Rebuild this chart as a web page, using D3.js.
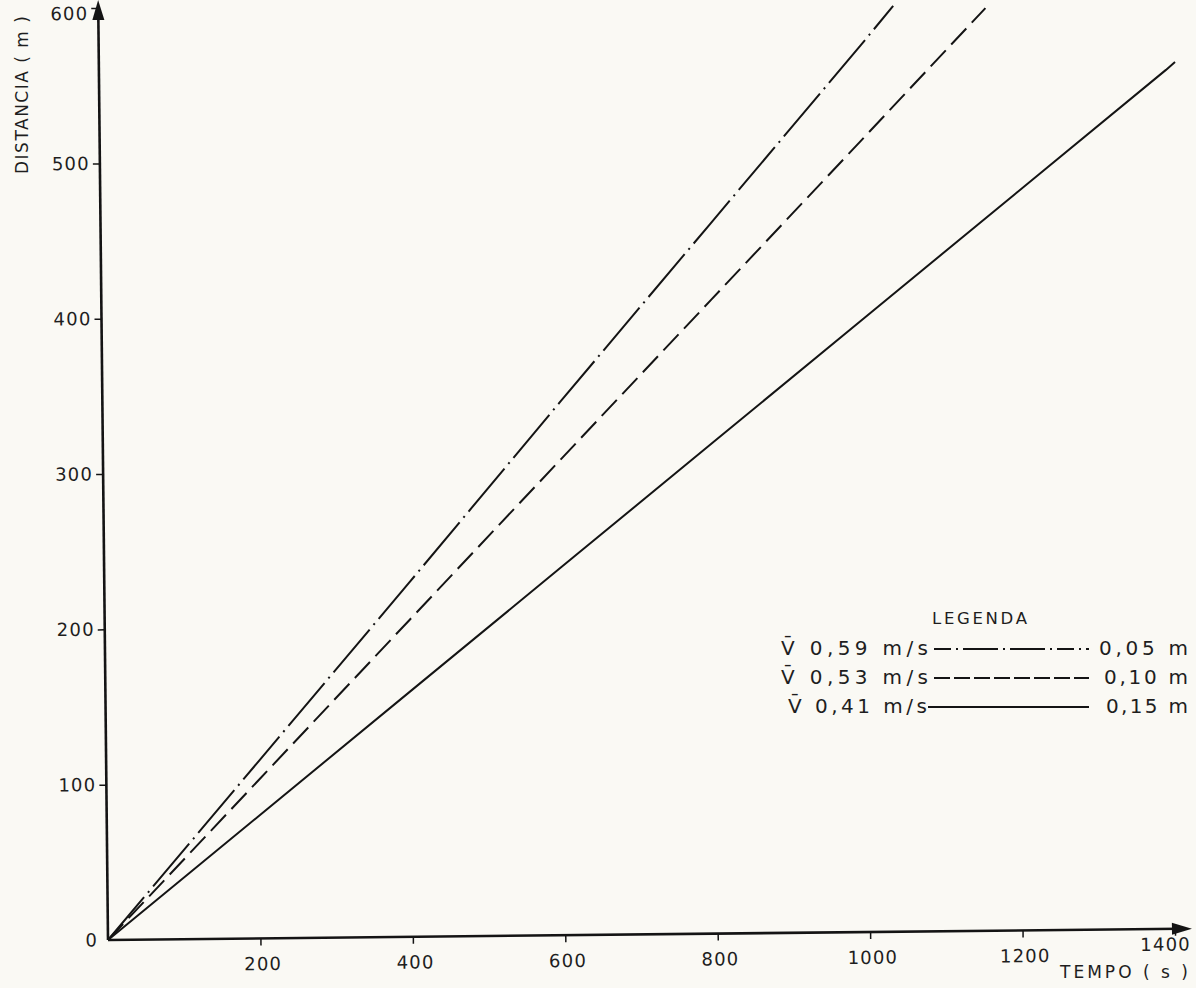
<!DOCTYPE html>
<html>
<head>
<meta charset="utf-8">
<script src="https://cdn.jsdelivr.net/npm/d3@7"></script>
<style>
  html, body { margin: 0; padding: 0; background: #faf9f4; }
  svg { display: block; }
  text { font-family: "DejaVu Sans", sans-serif; fill: #1e1e1e; }
</style>
</head>
<body>
<svg id="chart" width="1196" height="988"></svg>
<script>
// ---- data ----
const xTicks = [200, 400, 600, 800, 1000, 1200, 1400];
const yTicks = [0, 100, 200, 300, 400, 500, 600];
const xTitle = "TEMPO ( s )";
const yTitle = "DISTANCIA ( m )";
const legendTitle = "LEGENDA";

// series: time (s) and distance (m)
const t059 = [0, 200, 400, 600, 800, 1000, 1043];
const d059 = [0, 114, 228, 343, 457, 571, 596];
const t053 = [0, 200, 400, 600, 800, 1000, 1164];
const d053 = [0, 102, 204, 306, 408, 510, 594];
const t041 = [0, 200, 400, 600, 800, 1000, 1200, 1400, 1412];
const d041 = [0, 79, 158, 237, 316, 395, 474, 553, 558];

const seriesNames = ["V\u0304 0,59 m/s", "V\u0304 0,53 m/s", "V\u0304 0,41 m/s"];
const seriesDepth = ["0,05 m", "0,10 m", "0,15 m"];

// ---- drawing ----
const svg = d3.select("#chart");
svg.append("rect").attr("width", 1196).attr("height", 988).attr("fill", "#faf9f4");

const ox = 108, oy = 940;
const g = svg.append("g").attr("transform", `translate(${ox},${oy}) rotate(-0.6)`);

const x = d3.scaleLinear().domain([0, 1400]).range([0, 1067]);
const y = d3.scaleLinear().domain([0, 600]).range([0, -932]);

const ink = "#141414";

// x axis ticks + labels
const xAxis = d3.axisBottom(x).tickValues(xTicks).tickSize(7).tickPadding(12).tickFormat(d3.format("d"));
const gx = g.append("g").call(xAxis);
gx.select(".domain").remove();
gx.selectAll(".tick line").attr("stroke", ink).attr("stroke-width", 1.5);
gx.selectAll(".tick text").attr("font-size", 18).attr("fill", "#1e1e1e")
  .attr("font-family", "DejaVu Sans").attr("letter-spacing", 1.2)
  .attr("dx", d => d === 1400 ? -10 : 2)
  .attr("y", d => d === 1400 ? 9 : 19);

// y axis ticks + labels
const yAxis = d3.axisLeft(y).tickValues(yTicks).tickSize(7).tickPadding(3).tickFormat(d3.format("d"));
const gy = g.append("g").call(yAxis);
gy.select(".domain").remove();
gy.selectAll(".tick line").attr("stroke", ink).attr("stroke-width", 1.5);
gy.selectAll(".tick text").attr("font-size", 18).attr("fill", "#1e1e1e")
  .attr("font-family", "DejaVu Sans").attr("letter-spacing", 1.2)
  .attr("dy", d => d === 600 ? "0.62em" : "0.32em");
gy.selectAll(".tick").filter(d => d === 0).select("line").remove();

// axis lines with arrows
const xEnd = x(1400) + 17;
const yEnd = y(600) - 8;
g.append("line").attr("x1", 0).attr("y1", 0).attr("x2", xEnd - 12).attr("y2", 0)
  .attr("stroke", ink).attr("stroke-width", 2.6);
g.append("line").attr("x1", 0).attr("y1", 0).attr("x2", 0).attr("y2", yEnd + 12)
  .attr("stroke", ink).attr("stroke-width", 2.6);
g.append("path").attr("d", `M${xEnd},0 L${xEnd - 20},-6 L${xEnd - 20},6 Z`).attr("fill", ink);
g.append("path").attr("d", `M0,${yEnd} L-6,${yEnd + 20} L6,${yEnd + 20} Z`).attr("fill", ink);

// series lines
const line = d3.line().x(d => x(d[0])).y(d => y(d[1]));
const series = [
  { t: t059, d: d059, dash: "56 6 2 6" },
  { t: t053, d: d053, dash: "22 8" },
  { t: t041, d: d041, dash: null }
];
series.forEach(s => {
  const pts = s.t.map((tv, i) => [tv, s.d[i]]);
  const p = g.append("path").attr("d", line(pts)).attr("fill", "none")
    .attr("stroke", ink).attr("stroke-width", 2);
  if (s.dash) p.attr("stroke-dasharray", s.dash);
});

// axis titles
svg.append("text").attr("transform", "translate(28,95) rotate(-90)")
  .attr("text-anchor", "middle").attr("font-size", 17)
  .attr("textLength", 158).attr("lengthAdjust", "spacing")
  .text(yTitle);
svg.append("text").attr("x", 1060).attr("y", 978)
  .attr("font-size", 17).attr("textLength", 128).attr("lengthAdjust", "spacing")
  .text(xTitle);

// legend
const legX0 = 781, legLineX1 = 934, legLineX2 = 1089, legRight = 1188;
svg.append("text").attr("x", 932).attr("y", 624)
  .attr("font-size", 16.5).attr("textLength", 95).attr("lengthAdjust", "spacing").text(legendTitle);
const legDash = ["17 5 2 5 35 5 2 5 35 5 2 5", "16 4", null];
const rowY = [655, 684, 713];
const nameW = [147, 147, 139];
const nameX = [legX0, legX0, legX0 + 7];
const depthW = [89, 84, 82];
seriesNames.forEach((nm, i) => {
  svg.append("text").attr("x", nameX[i]).attr("y", rowY[i]).attr("font-size", 20)
    .attr("textLength", nameW[i]).attr("lengthAdjust", "spacing").text(nm);
  const l = svg.append("line").attr("x1", legLineX1 - (i === 2 ? 6 : 0)).attr("x2", legLineX2)
    .attr("y1", rowY[i] - 6).attr("y2", rowY[i] - 6)
    .attr("stroke", ink).attr("stroke-width", 1.8);
  if (legDash[i]) l.attr("stroke-dasharray", legDash[i]);
  svg.append("text").attr("x", legRight - depthW[i]).attr("y", rowY[i])
    .attr("font-size", 20).attr("textLength", depthW[i]).attr("lengthAdjust", "spacing")
    .text(seriesDepth[i]);
});
</script>
</body>
</html>
